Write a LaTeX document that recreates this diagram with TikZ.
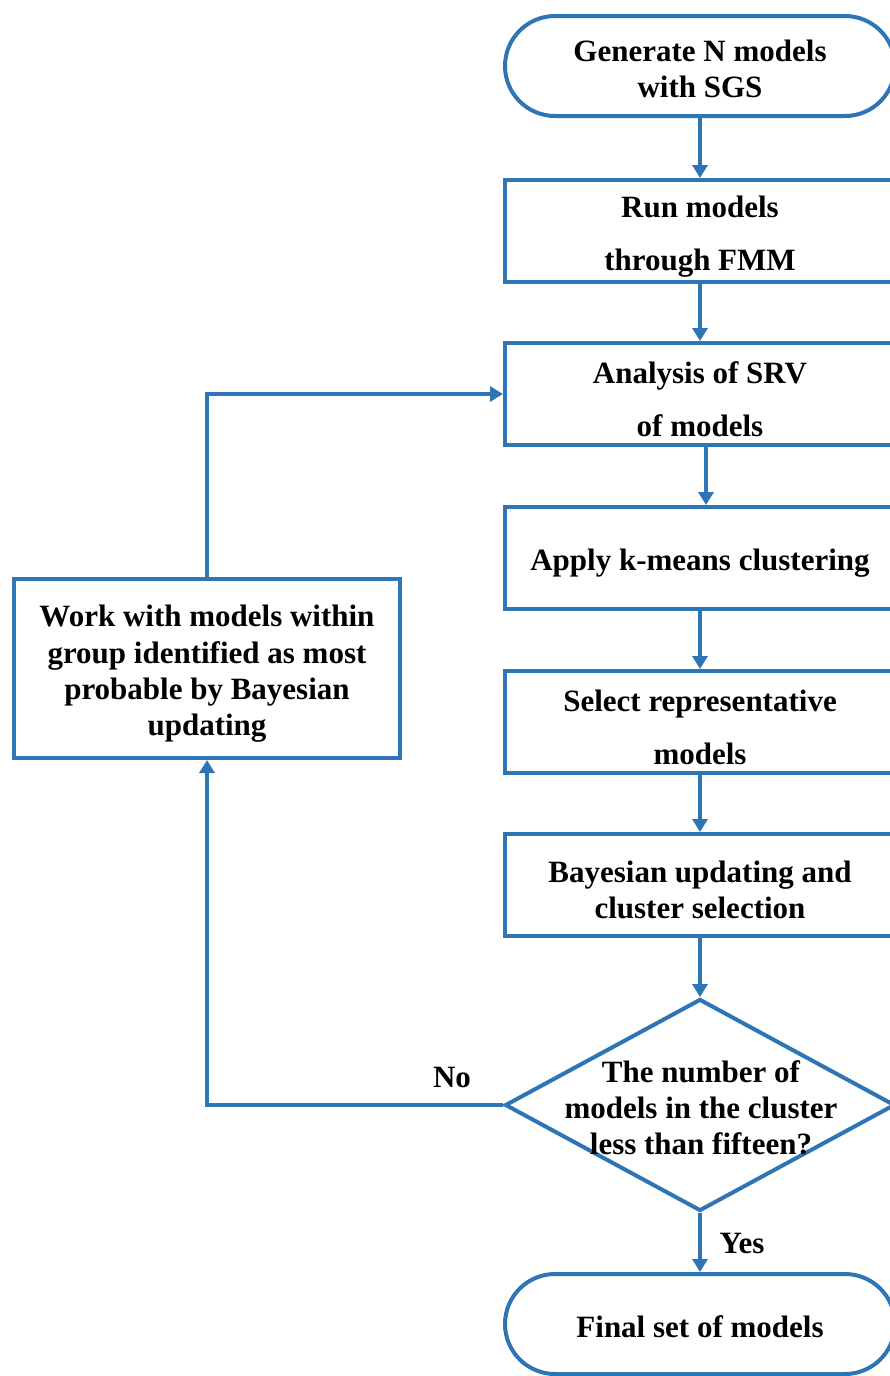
\documentclass[tikz,border=0pt]{standalone}
\usepackage{fontspec}
\setmainfont{Liberation Serif}
\usetikzlibrary{arrows.meta,shapes.misc,shapes.geometric}
\definecolor{flowblue}{RGB}{46,117,182}
\newcommand\topstrut{\rule{0pt}{32pt}}
\newcommand\termstrut{\rule{0pt}{27pt}}
\begin{document}
\begin{tikzpicture}[x=1pt,y=-1pt,
  every node/.style={font=\fontsize{31}{36}\selectfont\bfseries, text=black},
  procbox/.style={draw=flowblue, line width=4pt, rectangle, minimum width=390pt, minimum height=102pt, inner sep=0pt, align=center},
  termbox/.style={draw=flowblue, line width=4pt, rounded rectangle, minimum width=390pt, minimum height=100pt, inner sep=0pt, align=center},
  decbox/.style={draw=flowblue, line width=4pt, diamond, minimum width=390pt, minimum height=212pt, inner sep=0pt},
  flow/.style={draw=flowblue, line width=3.5pt, -{Triangle[length=13pt,width=15pt]}},
  lbl/.style={inner sep=0pt}
]
\useasboundingbox (0,0) rectangle (890,1376);
\clip (0,0) rectangle (890,1376);
\fill[white] (0,0) rectangle (890,1376);

\node[termbox] (t1) at (700,66) {\termstrut Generate N models\\with SGS};
\node[procbox] (b2) at (700,231) {\topstrut Run models\\[17pt]through FMM};
\node[procbox] (b3) at (700,394) {\topstrut Analysis of SRV\\[17pt]of models};
\node[procbox] (b4) at (700,558) {\topstrut Apply k-means clustering};
\node[procbox] (b5) at (700,722) {\topstrut Select representative\\[17pt]models};
\node[procbox] (b6) at (700,885) {\topstrut Bayesian updating and\\cluster selection};
\node[decbox] (d) at (700,1105) {};
\node[lbl, align=center] (dt) at (701,1108) {The number of\\models in the cluster\\less than fifteen?};
\node[termbox] (t2) at (700,1324) {\termstrut Final set of models};
\node[procbox, minimum width=386pt, minimum height=179pt] (lb) at (207,668.5)
  {\topstrut Work with models within\\[1pt]group identified as most\\probable by Bayesian\\updating};

\draw[flow] (t1.south) -- (b2.north);
\draw[flow] (b2.south) -- (b3.north);
\draw[flow] ([xshift=6pt]b3.south) -- ([xshift=6pt]b4.north);
\draw[flow] (b4.south) -- (b5.north);
\draw[flow] (b5.south) -- (b6.north);
\draw[flow] (b6.south) -- (d.north);
\draw[flow] (d.south) -- (t2.north);
\draw[flow] (d.west) -| (lb.south);
\draw[flow] (lb.north) |- (b3.west);

\node[lbl] (no) at (452,1077) {No};
\node[lbl] (yes) at (742,1243) {Yes};
\end{tikzpicture}
\end{document}
